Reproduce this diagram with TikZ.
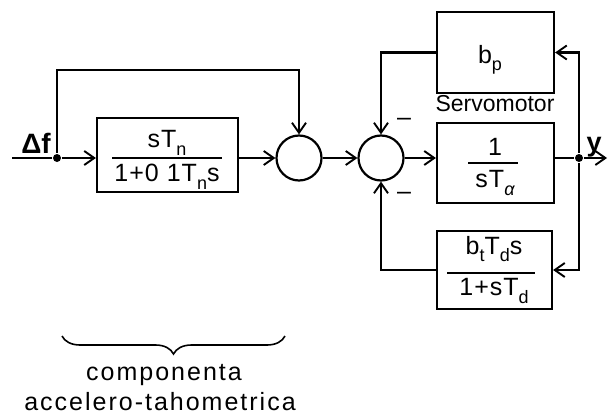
\documentclass[tikz,border=0pt]{standalone}
\usepackage{fontspec}
\setmainfont{Liberation Sans}
\newfontfamily\widefont[LetterSpace=8]{Liberation Sans}
\newfontfamily\blkfont[LetterSpace=4]{Liberation Sans}
\usetikzlibrary{arrows.meta,decorations.pathreplacing}
% lowered subscript in the block labels
\newcommand\lowsub[1]{\raisebox{-0.3em}{\fontsize{18}{18}\selectfont #1}}

\begin{document}
\begin{tikzpicture}[x=1pt,y=-1pt,
  line width=2.2pt,
  blk/.style={draw, rectangle, inner sep=0pt},
  sum/.style={draw, circle, minimum size=45pt, inner sep=0pt},
  arr/.style={-{Straight Barb[length=10pt,width=14pt,line width=1.9pt]}},
  dot/.style={circle, fill, inner sep=0pt, minimum size=8pt},
  lbl/.style={font=\blkfont\fontsize{25}{28}\selectfont, inner sep=0pt},
  bar/.style={line width=1.9pt},
]
\useasboundingbox (0,0) rectangle (609,417);

% blocks
\node[blk, minimum width=141pt, minimum height=74pt] (b1) at (167.5,155) {};
\node[blk, minimum width=117pt, minimum height=80pt] (ta) at (495.5,163) {};
\node[blk, minimum width=117pt, minimum height=81pt] (bp) at (495.5,52.5) {};
\node[blk, minimum width=115pt, minimum height=78pt] (bt) at (494.5,270) {};

% summing junctions
\node[sum] (c1) at (299,158) {};
\node[sum] (c2) at (381,158) {};

% block contents
\node[lbl] (n1) at (167,143) {sT\lowsub{n}};
\draw[bar] (112,158) -- (222,158);
\node[lbl] (d1) at (167,177) {1+0 1T\lowsub{n}s};

\node[lbl] (n2) at (495,147) {1};
\draw[bar] (468,163) -- (518,163);
\node[lbl] (d2) at (495,183) {sT\lowsub{\itshape α}};

\node[lbl] (n3) at (490,60) {b\lowsub{p}};

\node[lbl] (n4) at (494,249) {b\lowsub{t}T\lowsub{d}s};
\draw[bar] (447,273) -- (535,273);
\node[lbl] (d4) at (494,291) {1+sT\lowsub{d}};

% labels
\node[font=\fontsize{23}{26}\selectfont, inner sep=0pt] (servo) at (495,104) {Servomotor};
\node[font=\bfseries\fontsize{28}{30}\selectfont, inner sep=0pt] (df) at (36,143) {Δf};
\node[font=\bfseries\fontsize{27}{30}\selectfont, inner sep=0pt] (yl) at (594,147) {y};
\node[lbl] (m1) at (404,122) {–};
\node[lbl] (m2) at (404,196) {–};

% signal points
\coordinate (in) at (12,158);
\node[dot] (j1) at (57,158) {};
\node[dot] (j2) at (579,158) {};
\coordinate (out) at (607,158);
\coordinate (top) at (0,70);

% forward path
\draw (in) -- (j1);
\draw[arr] (j1) -- (b1.west |- j1);
\draw[arr] (b1.east |- j1) -- (c1.west);
\draw[arr] (c1.east) -- (c2.west);
\draw[arr] (c2.east) -- (ta.west |- c2);
\draw (ta.east |- c2) -- (j2);
\draw[arr] (j2) -- (out);
\draw[arr] (j1) -- (j1 |- top) -| (c1.north);

% feedback paths
\draw[arr] (j2) |- (bp.east);
\draw[arr] (j2) |- (bt.east);
\draw[arr] (bp.west) -| (c2.north);
\draw[arr] (bt.west) -| (c2.south);

% brace and caption
\draw[line width=1.6pt, decorate, decoration={brace, amplitude=18pt, mirror}] (62,336) -- (285,336);
\node[font=\widefont\fontsize{25}{28}\selectfont, inner sep=0pt] (cap1) at (164,375) {componenta};
\node[font=\widefont\fontsize{25}{28}\selectfont, inner sep=0pt] (cap2) at (160,402) {accelero-tahometrica};
\end{tikzpicture}
\end{document}
